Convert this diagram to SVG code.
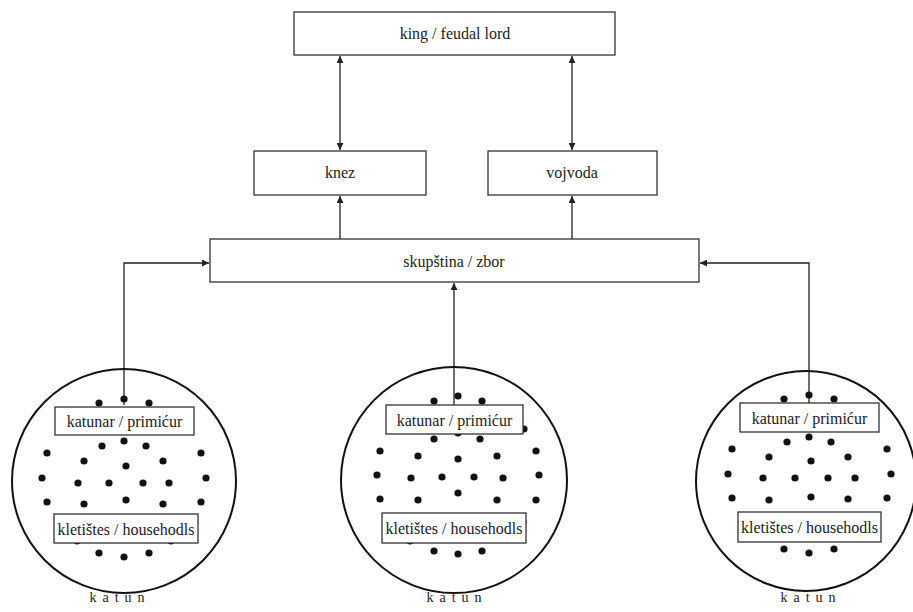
<svg xmlns="http://www.w3.org/2000/svg" width="913" height="612" viewBox="0 0 913 612">
<style>
.box{fill:#fff;stroke:#333;stroke-width:1.3}
text{font-family:'Liberation Serif','Times New Roman',Times,serif;fill:#222;text-anchor:middle}
.big{font-size:16px}
.sm{font-size:16px}
.c{fill:none;stroke:#111;stroke-width:2}
.d{fill:#111}
.ln{fill:none;stroke:#222;stroke-width:1.3}
.k{font-size:14px;letter-spacing:6px}
</style>
<defs>
<marker id="ah" viewBox="0 0 10 10" refX="10" refY="5" markerWidth="7" markerHeight="7" markerUnits="userSpaceOnUse" orient="auto-start-reverse">
<path d="M0,0 L10,5 L0,10 z" fill="#222"/>
</marker>
</defs>

<g id="connectors">
<line class="ln" x1="340" y1="56" x2="340" y2="150" marker-start="url(#ah)" marker-end="url(#ah)"/>
<line class="ln" x1="572" y1="56" x2="572" y2="150" marker-start="url(#ah)" marker-end="url(#ah)"/>
<line class="ln" x1="340" y1="239" x2="340" y2="196" marker-end="url(#ah)"/>
<line class="ln" x1="572" y1="239" x2="572" y2="196" marker-end="url(#ah)"/>
<polyline class="ln" points="124,405 124,263 209,263" marker-end="url(#ah)"/>
<line class="ln" x1="454" y1="405" x2="454" y2="283" marker-end="url(#ah)"/>
<polyline class="ln" points="809,403 809,263 700,263" marker-end="url(#ah)"/>
</g>

<g id="king">
<rect class="box" x="294" y="12" width="321" height="43"/>
<text class="big" x="455" y="39" font-family="Liberation Serif, serif">king / feudal lord</text>
</g>
<g id="knez">
<rect class="box" x="254" y="151" width="172" height="44"/>
<text class="big" x="340" y="178" font-family="Liberation Serif, serif">knez</text>
</g>
<g id="vojvoda">
<rect class="box" x="488" y="151" width="169" height="44"/>
<text class="big" x="572" y="178" font-family="Liberation Serif, serif">vojvoda</text>
</g>
<g id="skupstina">
<rect class="box" x="210" y="239" width="489" height="43"/>
<text class="big" x="454" y="267" font-family="Liberation Serif, serif">skupština / zbor</text>
</g>

<g id="katun-left">
<circle class="c" cx="124" cy="481" r="112"/>
<g class="d">
<circle cx="99" cy="403" r="3.6"/><circle cx="124" cy="399" r="3.6"/><circle cx="149" cy="403" r="3.6"/>
<circle cx="102" cy="446" r="3.6"/><circle cx="124" cy="441" r="3.6"/><circle cx="146" cy="446" r="3.6"/>
<circle cx="47" cy="453" r="3.6"/><circle cx="201" cy="453" r="3.6"/>
<circle cx="84" cy="461" r="3.6"/><circle cx="126" cy="466" r="3.6"/><circle cx="163" cy="461" r="3.6"/>
<circle cx="42" cy="478" r="3.6"/><circle cx="78" cy="483" r="3.6"/><circle cx="109" cy="483" r="3.6"/><circle cx="143" cy="483" r="3.6"/><circle cx="169" cy="483" r="3.6"/><circle cx="206" cy="478" r="3.6"/>
<circle cx="47" cy="502" r="3.6"/><circle cx="84" cy="504" r="3.6"/><circle cx="126" cy="500" r="3.6"/><circle cx="163" cy="504" r="3.6"/><circle cx="201" cy="502" r="3.6"/>
<circle cx="77" cy="541" r="3.6"/><circle cx="171" cy="541" r="3.6"/>
<circle cx="99" cy="553" r="3.6"/><circle cx="124" cy="557" r="3.6"/><circle cx="149" cy="553" r="3.6"/>
</g>
<rect class="box" x="55" y="407" width="139" height="28"/>
<text class="sm" x="124.5" y="427" font-family="Liberation Serif, serif">katunar / primićur</text>
<rect class="box" x="54" y="514" width="144" height="29"/>
<text class="sm" x="126" y="535" font-family="Liberation Serif, serif">kletištes / househodls</text>
<text class="k" x="120" y="602" font-family="Liberation Serif, serif">katun</text>
</g>

<g id="katun-middle">
<circle class="c" cx="454" cy="480" r="113"/>
<g class="d">
<circle cx="434" cy="401" r="3.6"/><circle cx="458" cy="396" r="3.6"/><circle cx="482" cy="401" r="3.6"/>
<circle cx="434" cy="439" r="3.6"/><circle cx="458" cy="433" r="3.6"/><circle cx="480" cy="439" r="3.6"/><circle cx="524" cy="429" r="3.6"/>
<circle cx="380" cy="451" r="3.6"/><circle cx="418" cy="456" r="3.6"/><circle cx="458" cy="459" r="3.6"/><circle cx="497" cy="456" r="3.6"/><circle cx="536" cy="451" r="3.6"/>
<circle cx="377" cy="475" r="3.6"/><circle cx="411" cy="478" r="3.6"/><circle cx="442" cy="477" r="3.6"/><circle cx="474" cy="477" r="3.6"/><circle cx="503" cy="478" r="3.6"/><circle cx="539" cy="475" r="3.6"/>
<circle cx="380" cy="499" r="3.6"/><circle cx="418" cy="500" r="3.6"/><circle cx="458" cy="493" r="3.6"/><circle cx="497" cy="500" r="3.6"/><circle cx="536" cy="500" r="3.6"/>
<circle cx="410" cy="541" r="3.6"/><circle cx="523" cy="522" r="3.6"/>
<circle cx="434" cy="551" r="3.6"/><circle cx="458" cy="554" r="3.6"/><circle cx="482" cy="551" r="3.6"/>
</g>
<rect class="box" x="386" y="405" width="137" height="29"/>
<text class="sm" x="454.5" y="426" font-family="Liberation Serif, serif">katunar / primićur</text>
<rect class="box" x="382" y="513" width="144" height="30"/>
<text class="sm" x="454" y="534" font-family="Liberation Serif, serif">kletištes / househodls</text>
<text class="k" x="457" y="602" font-family="Liberation Serif, serif">katun</text>
</g>

<g id="katun-right">
<circle class="c" cx="806" cy="481" r="110"/>
<g class="d">
<circle cx="784" cy="399" r="3.6"/><circle cx="809" cy="395" r="3.6"/><circle cx="834" cy="399" r="3.6"/>
<circle cx="787" cy="442" r="3.6"/><circle cx="809" cy="437" r="3.6"/><circle cx="831" cy="442" r="3.6"/>
<circle cx="732" cy="449" r="3.6"/><circle cx="887" cy="449" r="3.6"/>
<circle cx="769" cy="457" r="3.6"/><circle cx="811" cy="461" r="3.6"/><circle cx="848" cy="457" r="3.6"/>
<circle cx="728" cy="474" r="3.6"/><circle cx="763" cy="478" r="3.6"/><circle cx="795" cy="478" r="3.6"/><circle cx="828" cy="478" r="3.6"/><circle cx="855" cy="478" r="3.6"/><circle cx="891" cy="474" r="3.6"/>
<circle cx="732" cy="498" r="3.6"/><circle cx="769" cy="500" r="3.6"/><circle cx="811" cy="497" r="3.6"/><circle cx="848" cy="499" r="3.6"/><circle cx="887" cy="498" r="3.6"/>
<circle cx="784" cy="549" r="3.6"/><circle cx="809" cy="553" r="3.6"/><circle cx="834" cy="549" r="3.6"/>
</g>
<rect class="box" x="740" y="403" width="139" height="29"/>
<text class="sm" x="809.5" y="424" font-family="Liberation Serif, serif">katunar / primićur</text>
<rect class="box" x="738" y="512" width="143" height="30"/>
<text class="sm" x="809.5" y="533" font-family="Liberation Serif, serif">kletištes / househodls</text>
<text class="k" x="811" y="602" font-family="Liberation Serif, serif">katun</text>
</g>
</svg>
